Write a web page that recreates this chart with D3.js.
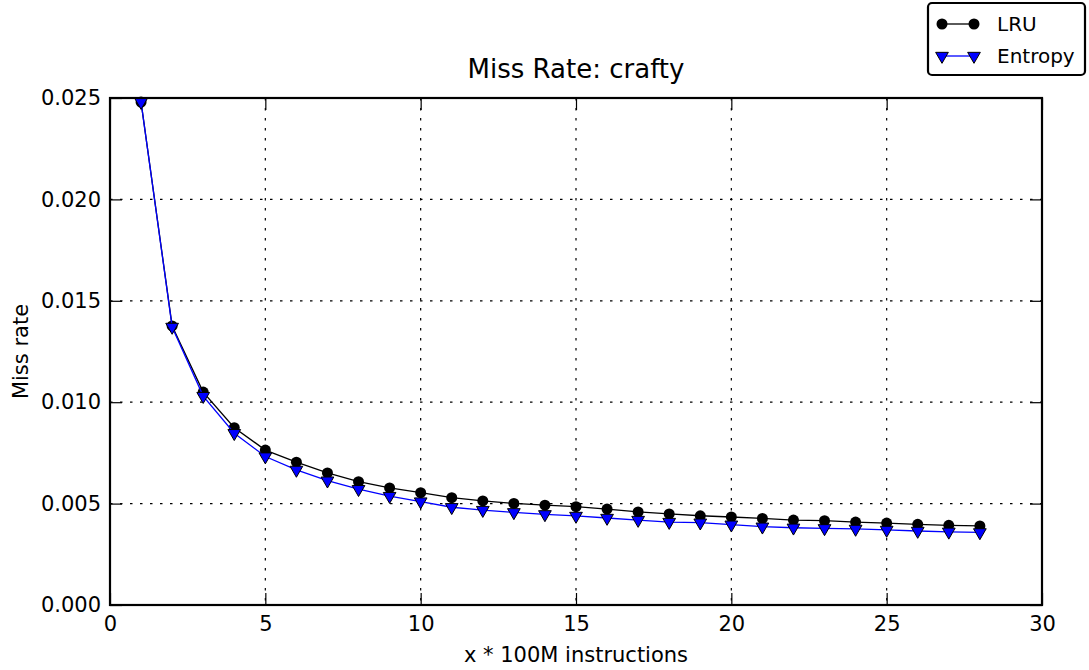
<!DOCTYPE html>
<html>
<head>
<meta charset="utf-8">
<script src="https://cdn.jsdelivr.net/npm/d3@7"></script>
<style>
    body { margin: 0; background: #fff; }
    svg { font-family: "DejaVu Sans", sans-serif; }
</style>
</head>
<body>
<div id="chart"></div>
<script>
const steps = d3.range(1, 29)
const lruRates = [0.0248, 0.01376, 0.0105, 0.00874, 0.00764, 0.00704, 0.00651, 0.00608, 0.00577, 0.00554,
    0.00529, 0.00513, 0.00501, 0.00492, 0.00485, 0.00473, 0.00459, 0.00449, 0.00440, 0.00434,
    0.00427, 0.00419, 0.00416, 0.00409, 0.00404, 0.00398, 0.00393, 0.00390]
const entropyRates = [0.0248, 0.01371, 0.0103, 0.00847, 0.00732, 0.00666, 0.00613, 0.00571, 0.00537, 0.00510,
    0.00482, 0.00468, 0.00457, 0.00447, 0.00439, 0.00429, 0.00419, 0.00409, 0.00406, 0.00396,
    0.00386, 0.00381, 0.00378, 0.00375, 0.00370, 0.00365, 0.00361, 0.00358]
const xTicks = [0, 5, 10, 15, 20, 25, 30]
const yTicks = [0, 0.005, 0.010, 0.015, 0.020, 0.025]
const seriesNames = ["LRU", "Entropy"]

const render = () => {
    const width = 1089
    const height = 670
    const margin = { top: 98, bottom: 65, left: 110, right: 47 }
    const innerWidth = width - margin.left - margin.right
    const innerHeight = height - margin.top - margin.bottom
    const tickLen = 12

    const svg = d3.select("#chart")
        .append("svg")
        .attr("width", width)
        .attr("height", height)

    const xScale = d3.scaleLinear().domain([0, 30]).range([0, innerWidth])
    const yScale = d3.scaleLinear().domain([0, 0.025]).range([innerHeight, 0])

    const g = svg.append("g")
        .attr("transform", `translate(${margin.left},${margin.top})`)

    // dotted grid
    g.append("g").selectAll("line")
        .data(xTicks.slice(1, -1))
        .join("line")
        .attr("x1", d => xScale(d)).attr("x2", d => xScale(d))
        .attr("y1", 0).attr("y2", innerHeight)
        .attr("stroke", "#000").attr("stroke-width", 1.2)
        .attr("stroke-dasharray", "2.5,7.5")
    g.append("g").selectAll("line")
        .data(yTicks.slice(1, -1))
        .join("line")
        .attr("y1", d => yScale(d)).attr("y2", d => yScale(d))
        .attr("x1", 0).attr("x2", innerWidth)
        .attr("stroke", "#000").attr("stroke-width", 1.2)
        .attr("stroke-dasharray", "2.5,7.5")

    // inward ticks, both sides
    const xAxis = d3.axisBottom(xScale).tickValues(xTicks).tickSize(-tickLen).tickPadding(11)
    const xAxisG = g.append("g")
        .attr("transform", `translate(0,${innerHeight})`)
        .call(xAxis)
    const xTopG = g.append("g")
        .call(d3.axisTop(xScale).tickValues(xTicks).tickSize(-tickLen).tickFormat(""))
    const yAxis = d3.axisLeft(yScale).tickValues(yTicks).tickSize(-tickLen).tickPadding(9)
        .tickFormat(d3.format(".3f"))
    const yAxisG = g.append("g").call(yAxis)
    const yRightG = g.append("g")
        .attr("transform", `translate(${innerWidth},0)`)
        .call(d3.axisRight(yScale).tickValues(yTicks).tickSize(-tickLen).tickFormat(""))

    ;[xAxisG, xTopG, yAxisG, yRightG].forEach(a => {
        a.select(".domain").remove()
        a.selectAll(".tick line").attr("stroke", "#000").attr("stroke-width", 1.2)
        a.selectAll(".tick text").attr("fill", "#000").style("font-size", "21px")
            .style("font-family", "DejaVu Sans")
    })

    // line + markers
    const lineGen = d3.line()
        .x((d, i) => xScale(steps[i]))
        .y(d => yScale(d))

    const tri = d3.symbol().type(d3.symbolTriangle).size(70)

    g.append("path")
        .datum(lruRates)
        .attr("fill", "none")
        .attr("stroke", "#000")
        .attr("stroke-width", 1.3)
        .attr("d", lineGen)
    g.append("g").selectAll("circle")
        .data(lruRates)
        .join("circle")
        .attr("cx", (d, i) => xScale(steps[i]))
        .attr("cy", d => yScale(d))
        .attr("r", 5.5)
        .attr("fill", "#000")

    g.append("path")
        .datum(entropyRates)
        .attr("fill", "none")
        .attr("stroke", "#0000ff")
        .attr("stroke-width", 1.3)
        .attr("d", lineGen)
    g.append("g").selectAll("path")
        .data(entropyRates)
        .join("path")
        .attr("d", tri)
        .attr("transform", (d, i) => `translate(${xScale(steps[i])},${yScale(d)}) rotate(180)`)
        .attr("fill", "#0000ff")
        .attr("stroke", "#000")
        .attr("stroke-width", 1)

    // frame
    g.append("rect")
        .attr("width", innerWidth)
        .attr("height", innerHeight)
        .attr("fill", "none")
        .attr("stroke", "#000")
        .attr("stroke-width", 2.2)

    // texts
    svg.append("text")
        .attr("x", margin.left + innerWidth / 2)
        .attr("y", 78)
        .attr("text-anchor", "middle")
        .style("font-size", "26px")
        .text("Miss Rate: crafty")
    svg.append("text")
        .attr("x", margin.left + innerWidth / 2)
        .attr("y", 662)
        .attr("text-anchor", "middle")
        .style("font-size", "21px")
        .text("x * 100M instructions")
    svg.append("text")
        .attr("transform", `translate(28,${margin.top + innerHeight / 2}) rotate(-90)`)
        .attr("text-anchor", "middle")
        .style("font-size", "21px")
        .text("Miss rate")

    // legend
    const legend = svg.append("g").attr("transform", "translate(928,3)")
    legend.append("rect")
        .attr("width", 157)
        .attr("height", 72)
        .attr("rx", 4)
        .attr("fill", "#fff")
        .attr("stroke", "#000")
        .attr("stroke-width", 2.2)
    const legendRows = legend.selectAll("g.row")
        .data(seriesNames)
        .join("g")
        .attr("class", "row")
        .attr("transform", (d, i) => `translate(0,${21 + i * 32})`)
    legendRows.append("line")
        .attr("x1", 14).attr("x2", 46)
        .attr("stroke", (d, i) => i === 0 ? "#000" : "#0000ff")
        .attr("stroke-width", 1.3)
    legendRows.each(function(d, i) {
        const row = d3.select(this)
        ;[14, 46].forEach(x => {
            if (i === 0) {
                row.append("circle").attr("cx", x).attr("r", 5.5).attr("fill", "#000")
            } else {
                row.append("path").attr("d", tri)
                    .attr("transform", `translate(${x},0) rotate(180)`)
                    .attr("fill", "#0000ff").attr("stroke", "#000").attr("stroke-width", 1)
            }
        })
    })
    legendRows.append("text")
        .attr("x", 69)
        .attr("y", 7)
        .style("font-size", "20px")
        .text(d => d)
}

render()
</script>
</body>
</html>
